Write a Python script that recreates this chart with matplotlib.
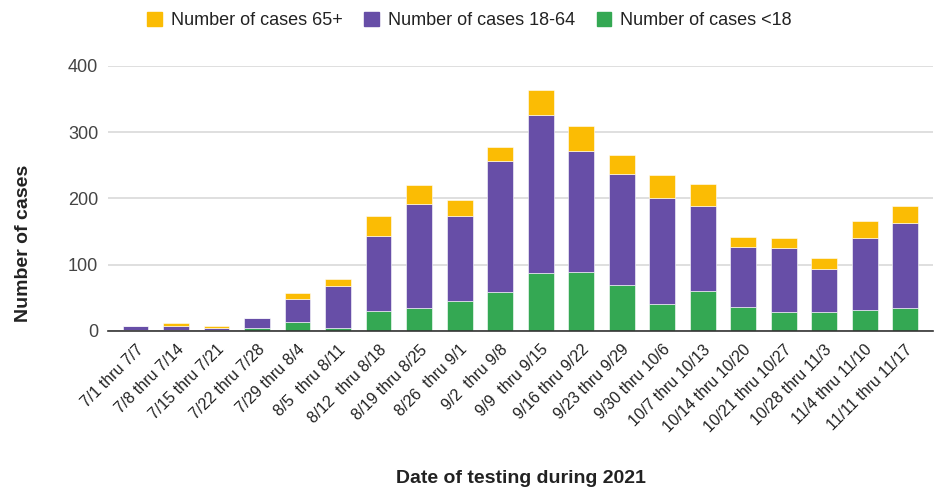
import matplotlib
matplotlib.use("Agg")
import matplotlib.pyplot as plt
from matplotlib.patches import Patch
import numpy as np

categories = ["7/1 thru 7/7", "7/8 thru 7/14", "7/15 thru 7/21", "7/22 thru 7/28",
              "7/29 thru 8/4", "8/5  thru 8/11", "8/12  thru 8/18", "8/19 thru 8/25",
              "8/26  thru 9/1", "9/2  thru 9/8", "9/9  thru 9/15", "9/16 thru 9/22",
              "9/23 thru 9/29", "9/30 thru 10/6", "10/7 thru 10/13", "10/14 thru 10/20",
              "10/21 thru 10/27", "10/28 thru 11/3", "11/4 thru 11/10", "11/11 thru 11/17"]
under18 = [1, 2, 1, 4, 13, 4, 30, 35, 45, 59, 88, 89, 70, 41, 61, 36, 29, 29, 32, 34]
age18_64 = [6, 5, 4, 16, 35, 64, 114, 156, 128, 198, 238, 182, 167, 159, 128, 91, 96, 64, 109, 129]
age65 = [1, 5, 2, 0, 9, 10, 29, 30, 24, 21, 37, 39, 28, 35, 33, 15, 16, 17, 25, 26]
yticks = [0, 100, 200, 300, 400]

c_green = "#34A853"
c_purple = "#674EA7"
c_orange = "#FBBC04"

plt.rcParams['font.family'] = ['Liberation Sans', 'DejaVu Sans']

fig = plt.figure(figsize=(9.43, 4.91), dpi=100)
ax = fig.add_axes([0.1145, 0.326, 0.8745, 0.5396])

x = np.arange(len(categories))
w = 0.64
a = np.array(under18)
b = np.array(age18_64)
c = np.array(age65)
ax.bar(x, a, w, color=c_green, edgecolor="white", linewidth=0.4, zorder=3)
ax.bar(x, b, w, bottom=a, color=c_purple, edgecolor="white", linewidth=0.4, zorder=3)
ax.bar(x, c, w, bottom=a + b, color=c_orange, edgecolor="white", linewidth=0.4, zorder=3)

ax.set_xlim(-0.68, len(categories) - 1 + 0.68)
ax.set_ylim(0, 400)
ax.set_yticks(yticks)
ax.set_yticklabels([str(t) for t in yticks], fontsize=13, color="#444444")
ax.yaxis.grid(True, color="#d9d9d9", linewidth=1.2, zorder=0)
ax.set_axisbelow(True)
for s in ["top", "right", "left"]:
    ax.spines[s].set_visible(False)
ax.spines["bottom"].set_color("#333333")
ax.spines["bottom"].set_linewidth(1.2)
ax.spines["bottom"].set_zorder(4)
ax.tick_params(axis="both", length=0)
ax.tick_params(axis="y", pad=7)

ax.set_xticks(x)
ax.set_xticklabels(categories, rotation=45, ha="right", rotation_mode="anchor",
                   fontsize=11.5, color="#222222")
ax.tick_params(axis="x", pad=8)

fig.text(0.025, 0.505, "Number of cases", rotation=90, ha="center", va="center",
         fontsize=14, fontweight="bold", color="#222222")
fig.text(0.552, 0.008, "Date of testing during 2021", ha="center", va="bottom",
         fontsize=14, fontweight="bold", color="#222222")

handles = [Patch(color=c_orange, label="Number of cases 65+"),
           Patch(color=c_purple, label="Number of cases 18-64"),
           Patch(color=c_green, label="Number of cases <18")]
fig.legend(handles=handles, loc="center", bbox_to_anchor=(0.498, 0.958), ncol=3,
           frameon=False, fontsize=13, handlelength=0.8, handleheight=0.8,
           handletextpad=0.5, columnspacing=1.2, labelcolor="#222222")

fig.savefig("out.png", dpi=100)
